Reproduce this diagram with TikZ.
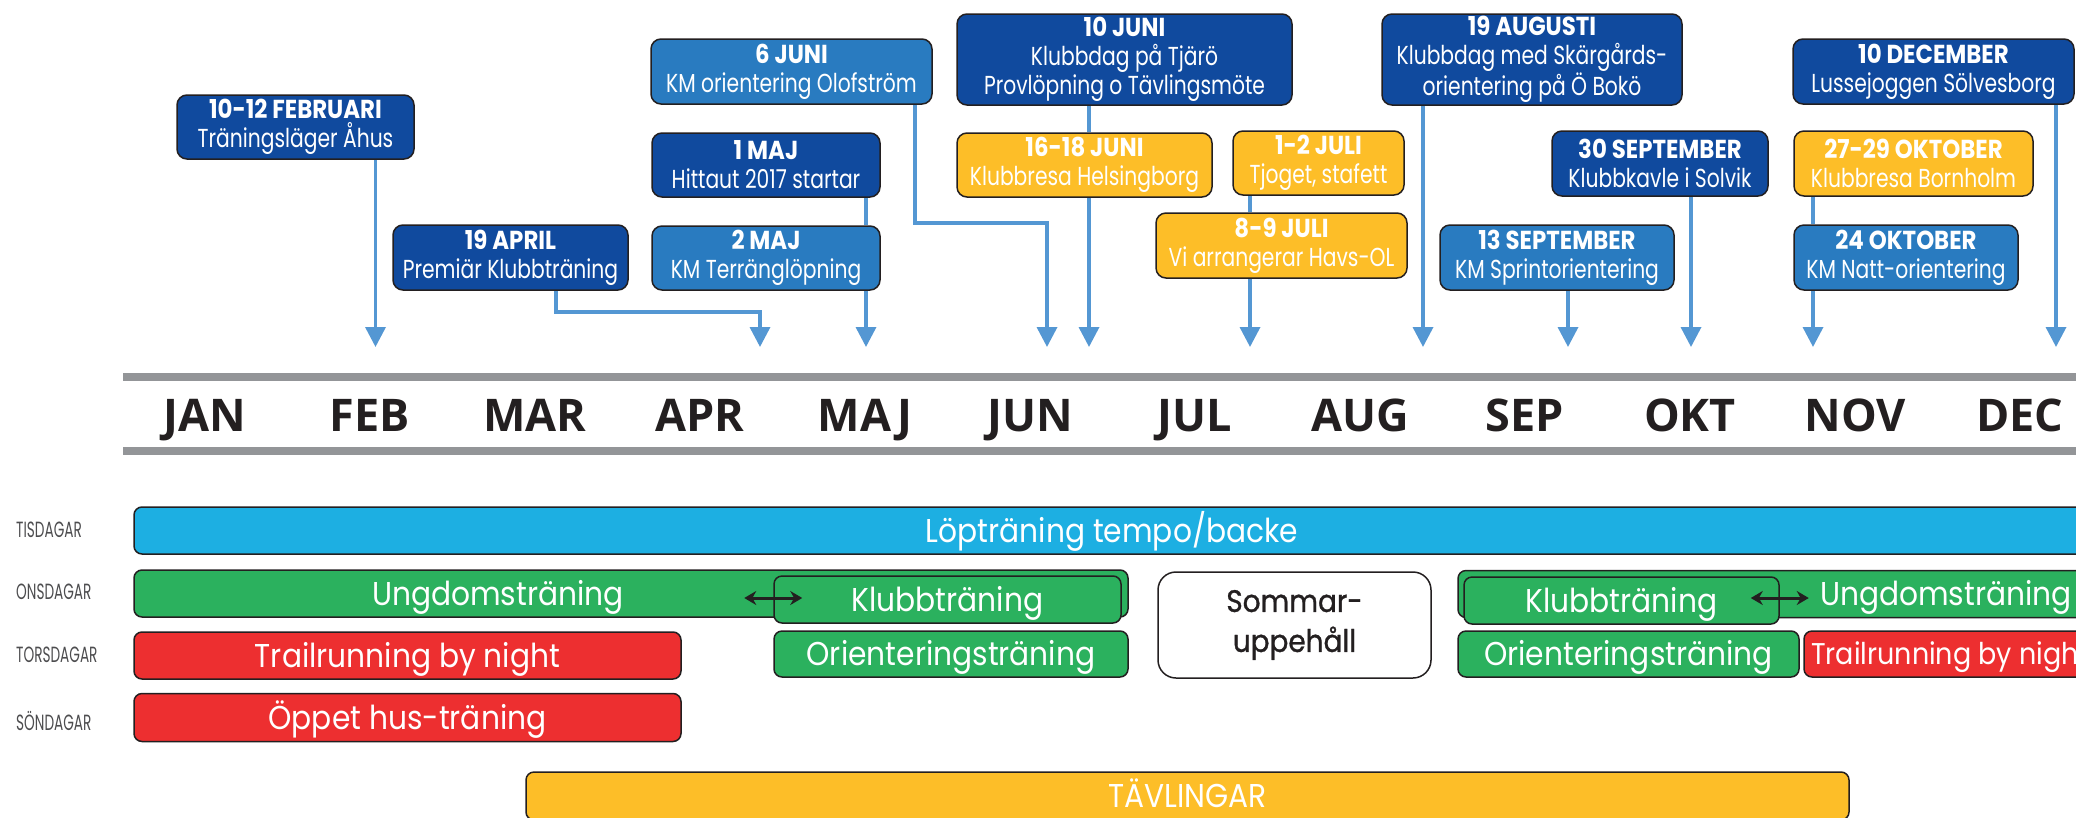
\documentclass[tikz,border=0pt]{standalone}
\usepackage{fontspec}
\setmainfont{Poppins}
\newfontfamily\evfont{Poppins}[FakeStretch=0.78]
\newfontfamily\evheadfont{Poppins}[FakeStretch=0.88]
\newfontfamily\barfont{Poppins}[FakeStretch=0.9]
\newfontfamily\sommarfont{Poppins}[FakeStretch=0.9,FakeBold=1]
\newfontfamily\dayfont{Poppins}[FakeStretch=0.62]
\newfontfamily\monthfont{Open Sans}
\newcommand{\evh}[1]{{\evheadfont\bfseries #1}}
\usetikzlibrary{arrows.meta,calc}

\definecolor{evdark}{RGB}{16,74,158}
\definecolor{evmid}{RGB}{41,123,192}
\definecolor{evyel}{RGB}{253,190,40}
\definecolor{linkblue}{RGB}{84,151,211}
\definecolor{barblue}{RGB}{29,175,226}
\definecolor{bargreen}{RGB}{43,177,94}
\definecolor{barred}{RGB}{237,47,48}
\definecolor{rulegrey}{RGB}{147,149,152}
\definecolor{edge}{RGB}{35,31,32}
\definecolor{daygrey}{RGB}{77,77,79}

\begin{document}
\begin{tikzpicture}[x=1pt,y=1pt,yscale=-1,xscale=1,
  evbox/.style={draw=edge,line width=1.5pt,rounded corners=10pt,inner sep=0pt,align=center,text=white,font=\evfont\fontsize{26}{29}\selectfont},
  conn/.style={draw=linkblue,line width=3.5pt,-{Triangle[width=20pt,length=20pt]}},
  linkline/.style={draw=linkblue,line width=3.5pt},
  barbox/.style={draw=edge,line width=1.5pt,rounded corners=8pt,inner sep=0pt,minimum height=47pt,text=white,font=\barfont\fontsize{33}{40}\selectfont,text height=23pt,text depth=0pt},
  bartxt/.style={inner sep=0pt,text=white,font=\barfont\fontsize{33}{40}\selectfont,text height=23pt,text depth=0pt},
  daylbl/.style={anchor=west,inner sep=0pt,text=daygrey,font=\dayfont\fontsize{22}{26}\selectfont},
  monthlbl/.style={anchor=base,inner sep=0pt,text=edge,font=\monthfont\bfseries\fontsize{45}{50}\selectfont},
  dblarr/.style={draw=edge,line width=3pt,{Stealth[length=12pt,width=14pt]}-{Stealth[length=12pt,width=14pt]}}
]
\useasboundingbox (0,0) rectangle (2076,817);
\clip (0,0) rectangle (2076,817);

%Shape: month rules
\draw[rulegrey,line width=8pt] (123,377) -- (2090,377);
\draw[rulegrey,line width=8pt] (123,451) -- (2090,451);

% Text Node
\node[monthlbl] (jan) at (205,431) {JAN};
\node[monthlbl] (feb) at (370,431) {FEB};
\node[monthlbl] (mar) at (535,431) {MAR};
\node[monthlbl] (aprl) at (700,431) {APR};
\node[monthlbl] (maj) at (865,431) {MAJ};
\node[monthlbl] (jun) at (1030,431) {JUN};
\node[monthlbl] (jul) at (1195,431) {JUL};
\node[monthlbl] (augl) at (1360,431) {AUG};
\node[monthlbl] (sep) at (1525,431) {SEP};
\node[monthlbl] (okt) at (1690,431) {OKT};
\node[monthlbl] (nov) at (1855,431) {NOV};
\node[monthlbl] (decl) at (2020,431) {DEC};

% events
\node[evbox,fill=evdark,minimum width=237pt,minimum height=64pt] (evFeb) at (295.5,127) {\evh{10-12 FEBRUARI}\\Träningsläger Åhus};
\node[evbox,fill=evdark,minimum width=235pt,minimum height=65pt] (evApr) at (510.5,257.5) {\evh{19 APRIL}\\Premiär Klubbträning};
\node[evbox,fill=evdark,minimum width=228pt,minimum height=64pt] (evMajA) at (766,165) {\evh{1 MAJ}\\Hittaut 2017 startar};
\node[evbox,fill=evmid,minimum width=228pt,minimum height=64pt] (evMajB) at (766,258) {\evh{2 MAJ}\\KM Terränglöpning};
\node[evbox,fill=evmid,minimum width=281pt,minimum height=65pt] (evJunA) at (791.5,71.5) {\evh{6 JUNI}\\KM orientering Olofström};
\node[evbox,fill=evdark,minimum width=335pt,minimum height=91pt] (evJunB) at (1124.5,59.5) {\evh{10 JUNI}\\Klubbdag på Tjärö\\Provlöpning o Tävlingsmöte};
\node[evbox,fill=evyel,minimum width=255pt,minimum height=64pt] (evJunC) at (1084.5,165) {\evh{16-18 JUNI}\\Klubbresa Helsingborg};
\node[evbox,fill=evyel,minimum width=171pt,minimum height=64pt] (evJulA) at (1318.5,163) {\evh{1-2 JULI}\\Tjoget, stafett};
\node[evbox,fill=evyel,minimum width=251pt,minimum height=65pt] (evJulB) at (1281.5,245.5) {\evh{8-9 JULI}\\Vi arrangerar Havs-OL};
\node[evbox,fill=evdark,minimum width=300pt,minimum height=91pt] (evAug) at (1532,59.5) {\evh{19 AUGUSTI}\\Klubbdag med Skärgårds-\\orientering på Ö Bokö};
\node[evbox,fill=evdark,minimum width=216pt,minimum height=65pt] (evSepA) at (1660,163.5) {\evh{30 SEPTEMBER}\\Klubbkavle i Solvik};
\node[evbox,fill=evmid,minimum width=234pt,minimum height=65pt] (evSepB) at (1557,257.5) {\evh{13 SEPTEMBER}\\KM Sprintorientering};
\node[evbox,fill=evdark,minimum width=281pt,minimum height=65pt] (evDec) at (1933.5,71.5) {\evh{10 DECEMBER}\\Lussejoggen Sölvesborg};
\node[evbox,fill=evyel,minimum width=239pt,minimum height=65pt] (evOktA) at (1913.5,163.5) {\evh{27-29 OKTOBER}\\Klubbresa Bornholm};
\node[evbox,fill=evmid,minimum width=224pt,minimum height=65pt] (evOktB) at (1906,257.5) {\evh{24 OKTOBER}\\KM Natt-orientering};

% arrow ends on the time line
\coordinate (tFeb) at (375.5,347);
\coordinate (tApr) at (760,347);
\coordinate (tMaj) at (866,347);
\coordinate (tJunA) at (1047,347);
\coordinate (tJunC) at (1089,347);
\coordinate (tJul) at (1250,347);
\coordinate (tAug) at (1423,347);
\coordinate (tSepB) at (1568,347);
\coordinate (tSepA) at (1691,347);
\coordinate (tOkt) at (1813,347);
\coordinate (tDec) at (2056,347);

\draw[conn] (tFeb |- evFeb.south) -- (tFeb);
\draw[conn] ($(evApr.south)+(45.5,0)$) |- ($(tApr)+(0,-35)$) -- (tApr);
\draw[linkline] (tMaj |- evMajA.south) -- (tMaj |- evMajB.north);
\draw[conn] (tMaj |- evMajB.south) -- (tMaj);
\draw[conn] ($(evJunA.south)+(123.5,0)$) |- ($(tJunA)+(0,-124)$) -- (tJunA);
\draw[linkline] (tJunC |- evJunB.south) -- (tJunC |- evJunC.north);
\draw[conn] (tJunC |- evJunC.south) -- (tJunC);
\draw[linkline] (tJul |- evJulA.south) -- (tJul |- evJulB.north);
\draw[conn] (tJul |- evJulB.south) -- (tJul);
\draw[conn] (tAug |- evAug.south) -- (tAug);
\draw[conn] (tSepB |- evSepB.south) -- (tSepB);
\draw[conn] (tSepA |- evSepA.south) -- (tSepA);
\draw[linkline] (tOkt |- evOktA.south) -- (tOkt |- evOktB.north);
\draw[conn] (tOkt |- evOktB.south) -- (tOkt);
\draw[conn] (tDec |- evDec.south) -- (tDec);

% Text Node
\node[daylbl] (tisLbl) at (16,530) {TISDAGAR};
\node[daylbl] (onsLbl) at (16,592) {ONSDAGAR};
\node[daylbl] (torsLbl) at (16,655) {TORSDAGAR};
\node[daylbl] (sonLbl) at (16,721) {SÖNDAGAR};

% weekly trainings
\node[barbox,fill=barblue,minimum width=1956pt] (lop) at (1112,530.5) {Löpträning tempo/backe};
\node[barbox,fill=bargreen,minimum width=994pt] (ungA) at (631,593.5) {};
\node[bartxt] (ungAtxt) at (498,593.5) {Ungdomsträning};
\node[barbox,fill=bargreen,minimum width=347pt] (klubbA) at (947.5,599.5) {Klubbträning};
\node[barbox,fill=bargreen,minimum width=354pt,minimum height=46pt] (orientA) at (951,654) {Orienteringsträning};
\node[draw=edge,line width=1.5pt,rounded corners=18pt,fill=white,minimum width=273pt,minimum height=106pt,align=center,text=edge,font=\sommarfont\fontsize{31}{40}\selectfont] (sommar) at (1294.5,625) {Sommar-\\uppehåll};
\node[barbox,fill=bargreen,minimum width=650pt] (ungB) at (1783,594) {};
\node[bartxt] (ungBtxt) at (1946,594) {Ungdomsträning};
\node[barbox,fill=bargreen,minimum width=315pt] (klubbB) at (1621.5,600.5) {Klubbträning};
\node[barbox,fill=bargreen,minimum width=341pt,minimum height=46pt] (orientB) at (1628.5,654) {Orienteringsträning};
\node[barbox,fill=barred,minimum width=316pt,minimum height=46pt] (trailB) at (1962,654) {};
\node[bartxt,anchor=west,font=\barfont\fontsize{30}{36}\selectfont,text height=21pt] (trailBtxt) at (1811,654) {Trailrunning by night};
\node[barbox,fill=barred,minimum width=547pt] (trailA) at (407.5,655.5) {Trailrunning by night};
\node[barbox,fill=barred,minimum width=547pt,minimum height=48pt] (oppet) at (407.5,717.5) {Öppet hus-träning};
\node[barbox,fill=evyel,minimum width=1323pt,minimum height=48pt] (tavl) at (1187.5,796) {TÄVLINGAR};

\draw[dblarr] ($(klubbA.west)+(-29,-1.5)$) -- ($(klubbA.west)+(29,-1.5)$);
\draw[dblarr] ($(klubbB.east)+(-29,-2.5)$) -- ($(klubbB.east)+(29,-2.5)$);

\end{tikzpicture}
\end{document}
